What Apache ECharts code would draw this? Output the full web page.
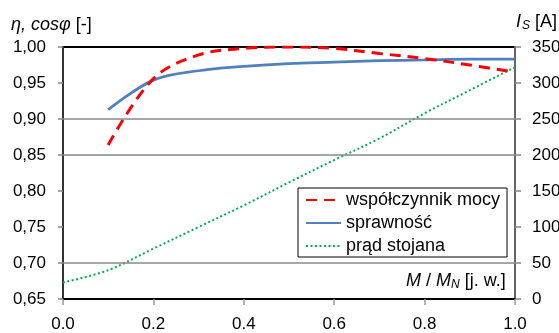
<!DOCTYPE html>
<html>
<head>
<meta charset="utf-8">
<script src="https://cdn.jsdelivr.net/npm/echarts@6/dist/echarts.min.js"></script>
<style>
  html, body { margin: 0; padding: 0; background: #fff; }
  #chart { width: 559px; height: 333px; }
</style>
</head>
<body>
<div id="chart"></div>
<script>
// M / M_N [j. w.]
const loadPts = [0.1, 0.2, 0.3, 0.4, 0.5, 0.6, 0.7, 0.8, 0.9, 1.0]
const powerFactor = [0.864, 0.956, 0.989, 0.998, 1.0, 0.998, 0.991, 0.984, 0.975, 0.965]
const efficiency = [0.913, 0.954, 0.967, 0.973, 0.977, 0.979, 0.981, 0.982, 0.983, 0.983]
const currentLoad = [0.0, 0.1, 0.2, 0.3, 0.4, 0.5, 0.6, 0.7, 0.8, 0.9, 1.0]
const statorCurrent = [23, 40, 70, 100, 130, 162, 193, 223, 258, 290, 322]
const gridValues = [0.9, 0.85, 0.7]

const seriesNames = ['współczynnik mocy', 'sprawność', 'prąd stojana']
const font = 'Liberation Sans, Arial, sans-serif'

const chart = echarts.init(document.getElementById('chart'))

chart.setOption({
  animation: false,
  textStyle: { fontFamily: font },
  grid: {
    left: 63, right: 44, top: 47, bottom: 34,
    outerBoundsMode: 'none',
    containLabel: false,
    show: true, borderColor: '#000', borderWidth: 2, backgroundColor: 'transparent'
  },
  legend: {
    orient: 'vertical',
    left: 298, top: 188,
    padding: [3, 7, 2, 7],
    itemGap: 5,
    itemWidth: 35, itemHeight: 14,
    backgroundColor: '#fff',
    borderColor: '#000', borderWidth: 1, borderRadius: 0,
    itemStyle: { opacity: 0 },
    textStyle: { fontSize: 18, color: '#000', fontFamily: font },
    data: seriesNames
  },
  xAxis: {
    type: 'value', min: 0, max: 1, interval: 0.2,
    axisLine: { show: true, lineStyle: { color: '#000', width: 2 } },
    axisTick: { show: true, length: 6, lineStyle: { color: '#999', width: 1.5 } },
    axisLabel: { fontSize: 17, color: '#000', margin: 17, formatter: (v) => v.toFixed(1) },
    splitLine: { show: false }
  },
  yAxis: [
    {
      type: 'value', min: 0.65, max: 1.0, interval: 0.05,
      axisLine: { show: true, lineStyle: { color: '#333', width: 2 } },
      axisTick: { show: true, length: 5, lineStyle: { color: '#888', width: 1.5 } },
      axisLabel: { fontSize: 17, color: '#000', margin: 17, formatter: (v) => v.toFixed(2).replace('.', ',') },
      splitLine: { show: false }
    },
    {
      type: 'value', min: 0, max: 350, interval: 50, position: 'right',
      axisLine: { show: true, lineStyle: { color: '#666', width: 2 } },
      axisTick: { show: true, length: 6, lineStyle: { color: '#888', width: 1.5 } },
      axisLabel: { fontSize: 17, color: '#000', margin: 17 },
      splitLine: { show: false }
    }
  ],
  graphic: [
    {
      type: 'text', left: 11, top: 16,
      style: {
        text: '{i|η, cosφ} [-]',
        font: '18px ' + font, fill: '#000',
        rich: { i: { fontStyle: 'italic', fontSize: 18, fontFamily: font } }
      }
    },
    {
      type: 'text', left: 516, top: 13,
      style: {
        text: '{i|I}{s|S} [A]',
        font: '18px ' + font, fill: '#000',
        rich: {
          i: { fontStyle: 'italic', fontSize: 18, fontFamily: font },
          s: { fontStyle: 'italic', fontSize: 12, fontFamily: font, verticalAlign: 'bottom', padding: [7, 0, 0, 1] }
        }
      }
    },
    {
      type: 'text', left: 406, top: 272,
      style: {
        text: '{i|M} / {i|M}{s|N} [j. w.]',
        font: '18px ' + font, fill: '#000',
        rich: {
          i: { fontStyle: 'italic', fontSize: 18, fontFamily: font },
          s: { fontStyle: 'italic', fontSize: 12, fontFamily: font, verticalAlign: 'bottom', padding: [7, 0, 0, 0] }
        }
      }
    }
  ],
  series: [
    {
      name: 'grid',
      type: 'line',
      data: [],
      z: 1,
      silent: true,
      markLine: {
        silent: true,
        symbol: 'none',
        label: { show: false },
        lineStyle: { color: '#888', width: 1.5, type: 'solid' },
        data: gridValues.map((v) => ({ yAxis: v }))
      }
    },
    {
      name: seriesNames[0],
      type: 'line',
      yAxisIndex: 0,
      smooth: 0.35,
      symbol: 'none',
      z: 4,
      lineStyle: { color: '#ff0000', width: 3, type: [11, 7] },
      itemStyle: { color: '#ff0000' },
      data: loadPts.map((x, i) => [x, powerFactor[i]])
    },
    {
      name: seriesNames[1],
      type: 'line',
      yAxisIndex: 0,
      smooth: 0.35,
      symbol: 'none',
      z: 3,
      lineStyle: { color: '#4f81bd', width: 2.75 },
      itemStyle: { color: '#4f81bd' },
      data: loadPts.map((x, i) => [x, efficiency[i]])
    },
    {
      name: seriesNames[2],
      type: 'line',
      yAxisIndex: 1,
      smooth: 0.35,
      symbol: 'none',
      z: 2,
      lineStyle: { color: '#00b050', width: 2, type: [2, 2.5] },
      itemStyle: { color: '#00b050' },
      data: currentLoad.map((x, i) => [x, statorCurrent[i]])
    }
  ]
})
</script>
</body>
</html>
